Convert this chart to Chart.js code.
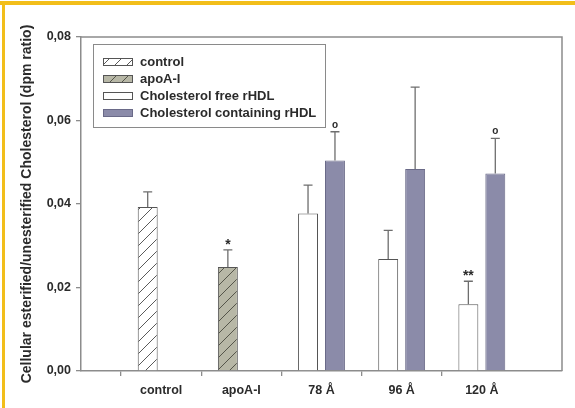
<!DOCTYPE html>
<html>
<head>
<meta charset="utf-8">
<script src="https://cdn.jsdelivr.net/npm/chart.js@4.4.1/dist/chart.umd.min.js"></script>
<style>
  html, body { margin: 0; padding: 0; background: #fff; overflow: hidden; }
  #chart { display: block; }
</style>
</head>
<body>
<canvas id="chart" width="575" height="408"></canvas>
<script>
  "use strict";

  // ---- data ----
  const categories = ["control", "apoA-I", "78 Å", "96 Å", "120 Å"];
  const yTicks = [0, 0.02, 0.04, 0.06, 0.08];

  const controlValues = [0.0393, null, null, null, null];
  const controlErrors = [0.0036, null, null, null, null];
  const controlMarks  = ["", "", "", "", ""];

  const apoValues = [null, 0.0249, null, null, null];
  const apoErrors = [null, 0.0041, null, null, null];
  const apoMarks  = ["", "*", "", "", ""];

  const freeValues = [null, null, 0.0377, 0.0268, 0.0160];
  const freeErrors = [null, null, 0.0068, 0.0069, 0.0055];
  const freeMarks  = ["", "", "", "", "**"];

  const containingValues = [null, null, 0.0504, 0.0484, 0.0473];
  const containingErrors = [null, null, 0.0069, 0.0196, 0.0084];
  const containingMarks  = ["", "", "o", "", "o"];

  const yTitle = "Cellular esterified/unesterified Cholesterol (dpm ratio)";

  // ---- helpers ----
  const FONT = "'Liberation Sans', Arial, sans-serif";
  const TEXT = "#2b2b2b";
  const AXIS = "#8c8c8c";

  // pad with an empty slot on each side so the groups sit at 1/6 .. 5/6 of the axis
  const pad = (arr) => [null, ...arr, null];
  const labels = ["", ...categories, ""];

  function hatch(bg, fg) {
    const s = 12;
    const c = document.createElement("canvas");
    c.width = s; c.height = s;
    const g = c.getContext("2d");
    g.fillStyle = bg;
    g.fillRect(0, 0, s, s);
    g.strokeStyle = fg;
    g.lineWidth = 1;
    g.beginPath();
    g.moveTo(0, s); g.lineTo(s, 0);
    g.moveTo(-s / 2, s / 2); g.lineTo(s / 2, -s / 2);
    g.moveTo(s / 2, s * 1.5); g.lineTo(s * 1.5, s / 2);
    g.stroke();
    return g.createPattern(c, "repeat");
  }

  const ctx = document.getElementById("chart");

  const controlFill = hatch("#ffffff", "#5a5a5a");
  const apoFill = hatch("#b7b7a6", "#55554a");

  const datasets = [
    { label: "control", data: pad(controlValues), errors: pad(controlErrors), marks: pad(controlMarks),
      backgroundColor: controlFill, borderColor: "#555", stack: "a" },
    { label: "apoA-I", data: pad(apoValues), errors: pad(apoErrors), marks: pad(apoMarks),
      backgroundColor: apoFill, borderColor: "#555", stack: "a" },
    { label: "Cholesterol free rHDL", data: pad(freeValues), errors: pad(freeErrors), marks: pad(freeMarks),
      backgroundColor: "#ffffff", borderColor: "#555", stack: "a" },
    { label: "Cholesterol containing rHDL", data: pad(containingValues), errors: pad(containingErrors), marks: pad(containingMarks),
      backgroundColor: "#8b8ba9", borderColor: "#6a6a88", stack: "b" }
  ];
  datasets.forEach((d) => {
    d.borderWidth = 1;
    d.categoryPercentage = 0.672;
    d.barPercentage = 0.74;
  });

  /* ---------------------------------------------------------------
   * Yellow page frame (top + left edge)
   * --------------------------------------------------------------- */
  const pageFrame = {
    id: "pageFrame",
    beforeDraw(chart) {
      const c = chart.ctx;
      c.save();
      c.fillStyle = "#ffffff";
      c.fillRect(0, 0, chart.width, chart.height);
      c.fillStyle = "#F2BE1A";
      c.fillRect(0, 1, chart.width, 4);
      c.fillRect(2, 1, 3, chart.height);
      c.restore();
    }
  };

  /* ---------------------------------------------------------------
   * Error bars (upper only) and significance marks
   * --------------------------------------------------------------- */
  const errorBars = {
    id: "errorBars",
    afterDatasetsDraw(chart) {
      const c = chart.ctx;
      const y = chart.scales.y;
      c.save();
      chart.data.datasets.forEach((ds, i) => {
        const meta = chart.getDatasetMeta(i);
        meta.data.forEach((bar, j) => {
          const v = ds.data[j];
          const e = ds.errors[j];
          if (v == null || e == null) return;
          const top = y.getPixelForValue(v + e);
          c.strokeStyle = "#6e6e6e";
          c.lineWidth = 1.3;
          c.beginPath();
          c.moveTo(bar.x, bar.y);
          c.lineTo(bar.x, top);
          c.moveTo(bar.x - 4.5, top);
          c.lineTo(bar.x + 4.5, top);
          c.stroke();
          const mark = ds.marks[j];
          if (mark) {
            c.fillStyle = TEXT;
            c.textAlign = "center";
            c.textBaseline = "middle";
            c.font = (mark === "o" ? "bold 10px " : "bold 14px ") + FONT;
            c.fillText(mark, bar.x, top - (mark === "o" ? 7 : 5));
          }
        });
      });
      c.restore();
    }
  };

  /* ---------------------------------------------------------------
   * Plot frame (top/right) and boxed legend inside the plot
   * --------------------------------------------------------------- */
  const frameAndLegend = {
    id: "frameAndLegend",
    afterDraw(chart) {
      const c = chart.ctx;
      const a = chart.chartArea;
      c.save();
      c.strokeStyle = AXIS;
      c.lineWidth = 1.5;
      c.beginPath();
      c.moveTo(a.left, a.top);
      c.lineTo(a.right, a.top);
      c.lineTo(a.right, a.bottom);
      c.stroke();

      // legend box
      const bx = 93, by = 44, bw = 232, bh = 83;
      c.lineWidth = 1;
      c.strokeStyle = "#8a8a8a";
      c.strokeRect(bx + 0.5, by + 0.5, bw, bh);

      c.font = "bold 13px " + FONT;
      c.textBaseline = "middle";
      c.textAlign = "left";
      chart.data.datasets.forEach((ds, i) => {
        const cy = 62 + i * 17;
        c.fillStyle = ds.backgroundColor;
        c.fillRect(103, cy - 4, 30, 8);
        c.strokeStyle = ds.borderColor;
        c.strokeRect(103.5, cy - 3.5, 29, 7);
        c.fillStyle = TEXT;
        c.fillText(ds.label, 140, cy + 0.5);
      });
      c.restore();
    }
  };

  new Chart(ctx, {
    type: "bar",
    data: { labels, datasets },
    options: {
      responsive: false,
      animation: false,
      devicePixelRatio: 1,
      layout: { padding: { left: 0, top: 37, right: 13, bottom: 0 } },
      plugins: {
        legend: { display: false },
        tooltip: { enabled: false }
      },
      scales: {
        x: {
          type: "category",
          offset: false,
          afterFit: (s) => { s.height = 37; },
          grid: {
            drawOnChartArea: false,
            drawTicks: true,
            tickLength: 5,
            color: (c) => (c.index === 0 || c.index === labels.length - 1 ? "rgba(0,0,0,0)" : AXIS),
            lineWidth: 1.3
          },
          border: { color: AXIS, width: 1.5 },
          ticks: {
            color: TEXT,
            font: { family: FONT, size: 12.5, weight: "bold" },
            padding: 7,
            maxRotation: 0,
            autoSkip: false
          }
        },
        y: {
          min: yTicks[0],
          max: yTicks[yTicks.length - 1],
          stacked: false,
          afterFit: (s) => { s.width = 81; },
          afterBuildTicks: (s) => { s.ticks = yTicks.map((v) => ({ value: v })); },
          grid: {
            drawOnChartArea: false,
            drawTicks: true,
            tickLength: 5,
            color: AXIS,
            lineWidth: 1.3
          },
          border: { color: AXIS, width: 1.5 },
          ticks: {
            color: TEXT,
            font: { family: FONT, size: 12.5, weight: "bold" },
            padding: 5,
            callback: (v) => Number(v).toFixed(2).replace(".", ",")
          },
          title: {
            display: true,
            text: yTitle,
            color: TEXT,
            font: { family: FONT, size: 14, weight: "bold" },
            padding: { top: 19, bottom: 0 }
          }
        }
      }
    },
    plugins: [pageFrame, errorBars, frameAndLegend]
  });
</script>
</body>
</html>
